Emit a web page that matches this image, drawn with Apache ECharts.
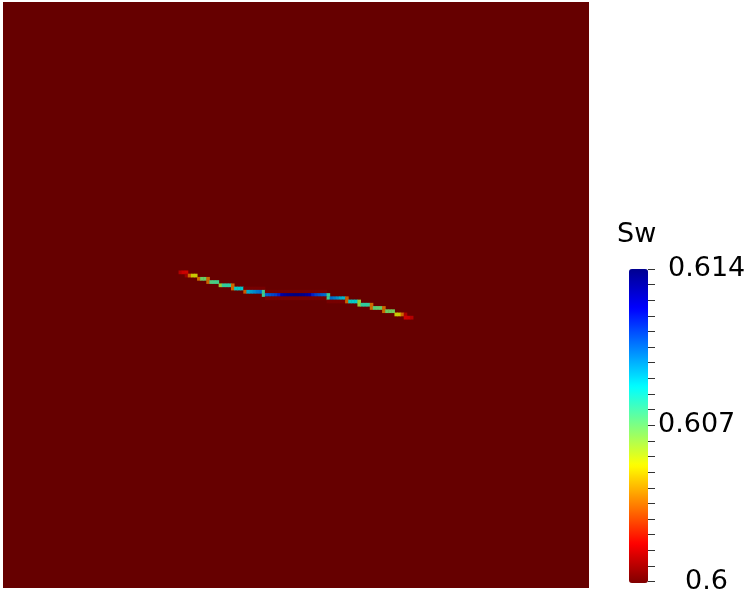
<!DOCTYPE html>
<html>
<head>
<meta charset="utf-8">
<script src="https://cdn.jsdelivr.net/npm/echarts@6/dist/echarts.min.js"></script>
<style>
  html, body { margin: 0; background: #fff; }
  #chart { width: 749px; height: 595px; }
</style>
</head>
<body>
<div id="chart"></div>
<script>
  // mesh size of the field (cells across / down)
  const nCols = 190
  const nRows = 181
  const swMin = 0.6
  const swMax = 0.614
  const tickStep = 0.0007
  const tickLabels = [0.6, 0.607, 0.614]
  const midTick = [0.607]

  // fracture cells, one run per mesh row: row, first column, values
  const runRow = [83, 84, 85, 86, 87, 88, 89, 90, 91, 92, 93, 94, 95, 96, 97]
  const runStart = [57, 59, 63, 66, 70, 74, 78, 84, 85, 105, 115, 119, 123, 127, 130]
  const runValues = [
    [0.6013, 0.6017, 0.6018],
    [0.6009, 0.6035, 0.6052, 0.6053],
    [0.6036, 0.6069, 0.6070, 0.6035],
    [0.6035, 0.6074, 0.6075, 0.6076],
    [0.6061, 0.6079, 0.6080, 0.6080, 0.6035],
    [0.6035, 0.6086, 0.6087, 0.6088, 0.6003, 0.6003, 0.6003, 0.6003, 0.6003, 0.6003, 0.6003],
    [0.6033, 0.6093, 0.6096, 0.6099, 0.6102, 0.6104, 0.6077,
     0.6003, 0.6003, 0.6003, 0.6003, 0.6003, 0.6003, 0.6003, 0.6003, 0.6003, 0.6003,
     0.6003, 0.6003, 0.6003, 0.6003, 0.6003, 0.6003, 0.6003, 0.6003, 0.6003, 0.6003],
    [0.6077, 0.6106, 0.6108, 0.6110, 0.6112, 0.6117, 0.6130, 0.6133, 0.6135, 0.6136, 0.6137,
     0.6137, 0.6136, 0.6135, 0.6133, 0.6130, 0.6117, 0.6112, 0.6109, 0.6106, 0.6104, 0.6077],
    [0.6003, 0.6003, 0.6003, 0.6003, 0.6003, 0.6003, 0.6003, 0.6003, 0.6003, 0.6003,
     0.6003, 0.6003, 0.6003, 0.6003, 0.6003, 0.6003, 0.6003, 0.6003, 0.6003, 0.6003,
     0.6077, 0.6104, 0.6101, 0.6098, 0.6093, 0.6091, 0.6033],
    [0.6003, 0.6003, 0.6003, 0.6003, 0.6003, 0.6003, 0.6034, 0.6086, 0.6087, 0.6087, 0.6061],
    [0.6061, 0.6079, 0.6080, 0.6079, 0.6036],
    [0.6036, 0.6072, 0.6071, 0.6070, 0.6035],
    [0.6035, 0.6069, 0.6069, 0.6068],
    [0.6053, 0.6052, 0.6035, 0.6012],
    [0.6018, 0.6017, 0.6013]
  ]

  // jet, low = dark red, high = dark blue
  const jetColors = ['#800000', '#ff0000', '#ff8000', '#ffff00', '#80ff80', '#00ffff', '#0080ff', '#0000ff', '#000090']
  // same map as it looks on the lit surface
  const litColors = ['#660000', '#cc0000', '#cc6600', '#cccc00', '#66cc66', '#00cccc', '#0066cc', '#0000cc', '#000073']

  const xCats = Array.from({ length: nCols }, (_, i) => i)
  const yCats = Array.from({ length: nRows }, (_, i) => i)

  let cells = []
  runRow.forEach((r, k) => {
    runValues[k].forEach((v, j) => cells.push([runStart[k] + j, r, v]))
  })

  const font = 'DejaVu Sans'
  const chart = echarts.init(document.getElementById('chart'))

  const options = {
    animation: false,
    title: {
      text: 'Sw',
      left: 617,
      top: 221,
      padding: 0,
      textStyle: { fontFamily: font, fontSize: 27, fontWeight: 'normal', color: '#000' }
    },
    grid: [
      { left: 3, top: 2, width: 586, height: 586, show: true, backgroundColor: '#660000', borderWidth: 0 },
      { left: 648, top: 269, width: 1, height: 314, show: false }
    ],
    xAxis: [
      { type: 'category', data: xCats, gridIndex: 0, show: false },
      { type: 'value', gridIndex: 1, show: false }
    ],
    yAxis: [
      { type: 'category', data: yCats, gridIndex: 0, show: false, inverse: true },
      {
        type: 'value', gridIndex: 1, position: 'left',
        min: swMin, max: swMax, interval: tickStep,
        axisLine: { show: false },
        splitLine: { show: false },
        axisTick: { show: true, inside: true, length: 7, lineStyle: { color: '#333' } },
        axisLabel: {
          show: true, inside: true, margin: 10,
          customValues: tickLabels,
          fontFamily: font, fontSize: 27, color: '#000',
          formatter: function (v) {
            if (Math.abs(v - swMax) < 1e-7) return '{top|' + String(+v.toFixed(3)) + '}'
            if (Math.abs(v - swMin) < 1e-7) return '{bot|' + String(+v.toFixed(3)) + '}'
            return String(+v.toFixed(3))
          },
          rich: {
            top: { fontFamily: font, fontSize: 27, color: '#000', padding: [0, 0, 0, 10] },
            bot: { fontFamily: font, fontSize: 27, color: '#000', padding: [0, 0, 0, 27] }
          }
        }
      },
      {
        type: 'value', gridIndex: 1, position: 'right', offset: 6,
        min: swMin, max: swMax,
        axisLine: { show: false },
        splitLine: { show: false },
        axisLabel: { show: false },
        axisTick: { show: true, inside: true, length: 15, customValues: midTick, lineStyle: { color: '#333' } }
      }
    ],
    visualMap: [
      { type: 'continuous', seriesIndex: 0, min: swMin, max: swMax, show: false, inRange: { color: litColors } },
      {
        type: 'continuous', seriesIndex: 1, min: swMin, max: swMax, show: true,
        left: 629, top: 269, itemWidth: 19, itemHeight: 314, padding: 0,
        calculable: false, hoverLink: false,
        inRange: { color: jetColors }
      }
    ],
    series: [
      { type: 'heatmap', xAxisIndex: 0, yAxisIndex: 0, data: cells, emphasis: { disabled: true } },
      { type: 'scatter', xAxisIndex: 1, yAxisIndex: 1, data: [] }
    ]
  }
  chart.setOption(options)
</script>
</body>
</html>
